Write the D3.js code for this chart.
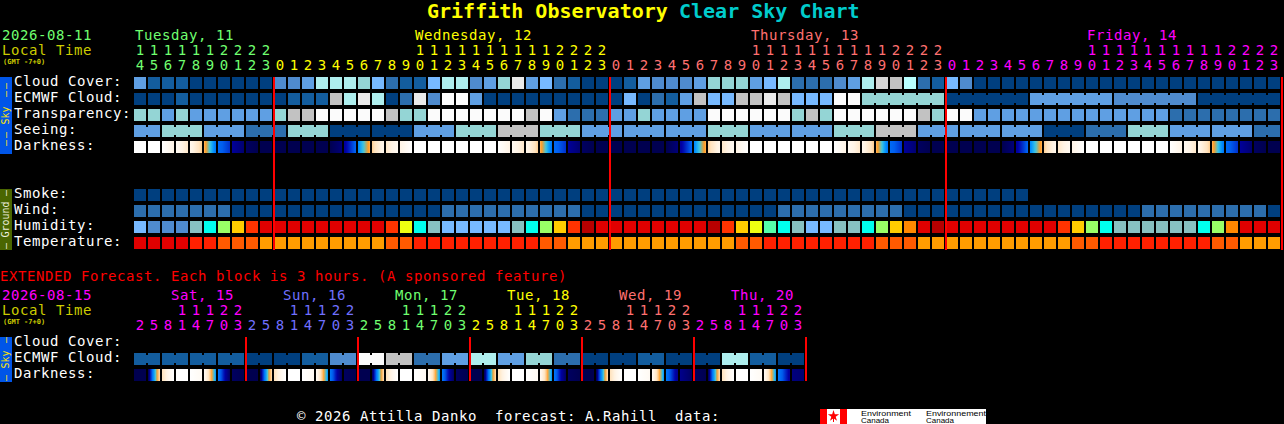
<!DOCTYPE html>
<html>
<head>
<meta charset="utf-8">
<title>Griffith Observatory Clear Sky Chart</title>
<script src="https://cdn.jsdelivr.net/npm/d3@7"></script>
<style>
  html, body { margin: 0; background: #000; overflow: hidden; }
  svg { display: block; }
  text { font-family: "DejaVu Sans Mono", monospace; white-space: pre; }
</style>
</head>
<body>
<script>
// hour of each block, main chart
const hours = [14,15,16,17,18,19,20,21,22,23,
  0,1,2,3,4,5,6,7,8,9,10,11,12,13,14,15,16,17,18,19,20,21,22,23,
  0,1,2,3,4,5,6,7,8,9,10,11,12,13,14,15,16,17,18,19,20,21,22,23,
  0,1,2,3,4,5,6,7,8,9,10,11,12,13,14,15,16,17,18,19,20,21,22,23];
const dayLabels = ["Tuesday, 11", "Wednesday, 12", "Thursday, 13", "Friday, 14"];
const dayFirstBlock = [0, 20, 44, 68];
const extHours = [2,5,8,11,14,17,20,23];
const extDays = ["Sat, 15", "Sun, 16", "Mon, 17", "Tue, 18", "Wed, 19", "Thu, 20"];

// sky levels, 0 = clear/dark blue ... 10 = overcast/white
const cloudCover = [4,1,1,1,0,0,0,0,0,0,3,3,4,7,7,7,6,5,2,1,
  1,5,7,7,3,4,6,9,4,5,2,1,0,0,0,1,4,3,3,3,4,6,6,6,4,5,7,2,2,2,3,
  4,7,11,8,12,2,1,5,3,0,0,0,0,0,0,0,0,0,0,0,0,0,0,0,0,0,0,0,0,0,0];
const ecmwfCloud = [0,0,0,1,0,0,0,0,0,0,0,1,1,1,8,7,9,7,0,2,
  9,3,10,10,4,0,0,0,0,0,0,0,0,0,0,5,0,2,1,4,8,5,5,8,8,9,8,5,5,5,10,10];
const ecmwfCloudLong = [6,0,4,3,0]; // six-hour blocks after the hourly part
const transparency = [6,6,4,6,4,4,4,4,4,4,6,8,8,10,10,10,10,10,8,6,
  6,10,10,10,10,10,10,10,8,10,4,2,2,2,4,4,6,4,4,4,4,10,10,10,10,10,10,6,8,6,10,
  10,10,10,10,10,8,6,10,10,4,4,4,4,4,4,4,4,4,4,4,4,4,4,2,2,2,2,2,2,2,2];
const seeing = [4,6,4,2,6,0,0,4,6,8,6,4,4,4,6,4,4,6,8,4,4,4,0,2,6,4,4,2];
const seeingSpan = [2,3,3,3,3,3,3,3,3,3,3,3,3,3,3,3,3,3,3,3,3,3,3,3,3,3,3,2];

// limiting magnitude at the left and the right edge of each block
const darkStart = [-4,-4,-4,-3,-2.5,0.5,3.8,5,5.8,6,6,6,6,6,6,5,3.2,0,-1,-2,
  -4,-4,-4,-4,-4,-4,-4,-3,-2.5,0.5,3.8,5,5.8,6,6,6,6,6,6,5,3.2,0,-1,-2,
  -4,-4,-4,-4,-4,-4,-4,-3,-2.5,0.5,3.8,5,5.8,6,6,6,6,6,6,5,3.2,0,-1,-2,
  -4,-4,-4,-4,-4,-4,-4,-3,-2.5,0.5,3.8,5,5.8,6];
const darkEnd = [-4,-4,-2,-1,0,3.6,4.4,5.6,6,6,6,6,6,6,5.5,3.9,0.6,-2.5,-3,-4,
  -4,-4,-4,-4,-4,-4,-2,-1,0,3.6,4.4,5.6,6,6,6,6,6,6,5.5,3.9,0.6,-2.5,-3,-4,
  -4,-4,-4,-4,-4,-4,-2,-1,0,3.6,4.4,5.6,6,6,6,6,6,6,5.5,3.9,0.6,-2.5,-3,-4,
  -4,-4,-4,-4,-4,-4,-2,-1,0,3.6,4.4,5.6,6,6];

const smoke = [0,0,0,0,0,0,0,0,0,0,0,0,0,0,0,0,0,0,0,0,0,0,0,0,0,0,0,0,0,0,0,0,
  0,0,0,0,0,0,0,0,0,0,0,0,0,0,0,0,0,0,0,0,0,0,0,0,0,0,0,0,0,0,0,0];
const wind = [2,2,2,2,2,2,2,0,0,0,0,0,0,0,0,0,0,0,0,0,0,0,
  2,2,2,2,2,2,2,2,2,2,0,0,0,0,0,0,0,0,0,0,0,0,0,0,
  2,2,2,2,2,2,2,2,2,0,0,0,0,0,0,0,0,0,0,0,0,0,0,0,0,0,
  2,2,2,2,2,2,2,2,2,0,0,0];
const humidity = [45,40,40,40,50,55,65,75,85,90,90,90,90,90,90,90,90,90,85,70,55,
  50,45,45,45,45,45,50,55,65,75,85,100,90,90,90,90,90,90,90,90,100,85,75,70,60,55,50,45,45,50,
  50,55,65,75,80,90,100,90,90,90,90,90,90,90,90,85,75,65,55,50,50,50,50,50,50,55,65,80,90,90,90];
const temperature = [32,32,32,32,28,28,24,24,24,20,20,20,20,20,20,20,20,20,24,24,28,
  28,28,28,28,28,28,28,28,24,24,20,20,20,20,20,20,20,20,20,20,20,20,24,24,28,28,28,28,28,28,
  28,28,24,24,24,20,20,20,20,20,20,20,20,20,20,20,24,24,28,28,28,28,28,28,28,28,24,24,20,20,20];

// extended forecast, 48 three-hour blocks
const extEcmwf = [1,1,1,1,0,0,1,3,10,8,2,4,7,4,6,2,0,0,1,0,0,7,1,0]; // 6 h blocks
const extDarkStart = [6,6,-0.5,-4,-4,-3,3.5,5.8, 6,6,-0.5,-4,-4,-3,3.5,5.8, 6,6,-0.5,-4,-4,-3,3.5,5.8,
  6,6,-0.5,-4,-4,-3,3.5,5.8, 6,6,-0.5,-4,-4,-3,3.5,5.2, 5.8,6,-0.5,-4,-4,-3,3.5,5.4];
const extDarkEnd = [6,-0.5,-4,-4,-3,3,5.8,6, 6,-0.5,-4,-4,-3,3,5.8,6, 6,-0.5,-4,-4,-3,3,5.8,6,
  6,-0.5,-4,-4,-3,3,5.8,6, 6,-0.5,-4,-4,-3,3,5.2,5.8, 6,-0.5,-4,-4,-3,3,5,5.6];

const skyRows = ["Cloud Cover:", "ECMWF Cloud:", "Transparency:", "Seeing:", "Darkness:"];
const groundRows = ["Smoke:", "Wind:", "Humidity:", "Temperature:"];
const extRows = ["Cloud Cover:", "ECMWF Cloud:", "Darkness:"];

const dayColors = ["#70ff70", "#ffff00", "#ff7070", "#ff00ff"];
const extColors = ["#ff00ff", "#7070ff", "#70ff70", "#ffff00", "#ff7070", "#ff00ff"];

const W = 1284, H = 424;
const svg = d3.select("body").append("svg").attr("width", W).attr("height", H);

const x = d3.scaleBand().domain(d3.range(82)).range([134, 134 + 14 * 82 - 2]).paddingInner(2 / 14);
const xExt = d3.scaleBand().domain(d3.range(48)).range([134, 134 + 14 * 48 - 2]).paddingInner(2 / 14);

function rowScale(names, top) {
  return d3.scaleBand().domain(names).range([top, top + 16 * names.length - 4]).paddingInner(4 / 16);
}
const ySky = rowScale(skyRows, 77);
const yGround = rowScale(groundRows, 189);
const yExt = rowScale(extRows, 337);

const skyColor = d3.scaleOrdinal(d3.range(13), ["#003f7f", "#135d9e", "#2c6ead", "#4f8bce", "#5f9fe3", "#77b9ff",
  "#94d5d5", "#aeeeee", "#c2c2c2", "#eaeaea", "#fbfbfb", "#d6d6d6", "#b8ffff"]);
const humidityColor = d3.scaleOrdinal([40, 45, 50, 55, 60, 65, 70, 75, 80, 85, 90, 100],
  ["#4f8bce", "#77b9ff", "#87c1c1", "#00ffee", "#55ffaa", "#99ff66", "#eeff11", "#ffcc00", "#ff8800", "#ff3300", "#e00000", "#b80000"]);
const tempColor = d3.scaleOrdinal([20, 24, 28, 32], ["#ff9c00", "#ff5a00", "#ff2000", "#e00000"]);
const darkColor = d3.scaleLinear()
  .domain([-4, -2, -0.5, 0.5, 1, 2, 3, 4, 4.8, 5.6, 6])
  .range(["#ffffff", "#fff4e6", "#ffe2bc", "#ffb860", "#ff9a20", "#40c8e0", "#0090ff", "#0060f0", "#0000a8", "#000070", "#000050"]);

// expand a list of values with spans into one entry per block
function spread(values, spans) {
  const out = [];
  let start = 0;
  values.forEach(function (v, i) {
    d3.range(spans[i]).forEach(function (j) {
      out.push({ k: start + j, value: v, joined: j < spans[i] - 1 });
    });
    start += spans[i];
  });
  return out;
}
function plain(values) {
  return values.map(function (v, k) { return { k: k, value: v, joined: false }; });
}

function drawRow(cells, xs, y, color) {
  const g = svg.append("g");
  g.selectAll(".block").data(cells).enter().append("rect")
    .attr("class", "block")
    .attr("x", function (d) { return xs(d.k); })
    .attr("y", y)
    .attr("width", xs.bandwidth())
    .attr("height", 12)
    .attr("fill", function (d) { return color(d.value); });
  // small bridge between blocks that share one forecast value
  g.selectAll(".bridge").data(cells.filter(function (d) { return d.joined; })).enter().append("rect")
    .attr("class", "bridge")
    .attr("x", function (d) { return xs(d.k) + xs.bandwidth(); })
    .attr("y", y + 2)
    .attr("width", xs.step() - xs.bandwidth())
    .attr("height", 8)
    .attr("fill", function (d) { return color(d.value); });
}

const defs = svg.append("defs");
function drawDarkness(starts, ends, xs, y, prefix) {
  const cells = starts.map(function (s, k) { return { k: k, from: s, to: ends[k] }; });
  const grads = defs.selectAll("." + prefix).data(cells).enter().append("linearGradient")
    .attr("class", prefix)
    .attr("id", function (d) { return prefix + d.k; });
  d3.range(0, 1.01, 0.125).forEach(function (t) {
    grads.append("stop")
      .attr("offset", t)
      .attr("stop-color", function (d) { return darkColor(d.from + (d.to - d.from) * t); });
  });
  svg.append("g").selectAll("rect").data(cells).enter().append("rect")
    .attr("x", function (d) { return xs(d.k); })
    .attr("y", y)
    .attr("width", xs.bandwidth())
    .attr("height", 12)
    .attr("fill", function (d) { return "url(#" + prefix + d.k + ")"; });
}

function label(txt, px, py, color, size, weight) {
  return svg.append("text")
    .attr("x", px).attr("y", py)
    .attr("fill", color)
    .attr("font-size", size || 14)
    .attr("letter-spacing", size ? 0 : 0.57)
    .attr("font-weight", weight || "normal")
    .text(txt);
}

function hourAxis(xs, blocks, textOf, colorOf, py) {
  const g = svg.append("g").attr("transform", "translate(0," + py + ")")
    .call(d3.axisTop(xs).tickValues(blocks).tickSize(0).tickPadding(0).tickFormat(textOf));
  g.select(".domain").remove();
  g.attr("font-family", null).attr("font-size", 14);
  g.selectAll("text").attr("fill", colorOf);
}

function sideTab(top, height, color, textColor, pieces) {
  svg.append("rect").attr("x", 0).attr("y", top).attr("width", 12).attr("height", height).attr("fill", color);
  pieces.forEach(function (p) {
    svg.append("text")
      .attr("transform", "translate(9," + p[1] + ") rotate(-90)")
      .attr("text-anchor", "middle")
      .attr("font-size", 10)
      .attr("letter-spacing", p[0].length === 3 && p[0] !== "Sky" ? -2 : 0)
      .attr("fill", textColor)
      .text(p[0]);
  });
}

// title
label("Griffith Observatory", 427, 18, "#ffff00", 20, "bold");
label("Clear Sky Chart", 679, 18, "#00cccc", 20, "bold");

// header, main chart
label("2026-08-11", 2, 40, "#70ff70");
label("Local Time", 2, 55, "#cccc00");
label("(GMT -7+0)", 3, 64, "#cccc00", 7, "bold");
dayLabels.forEach(function (d, i) {
  label(d, x(dayFirstBlock[i]) + 1, 40, dayColors[i]);
});
function blockColor(k) {
  return dayColors[k < 10 ? 0 : Math.floor((k - 10) / 24) + 1];
}
const tensBlocks = d3.range(82).filter(function (k) { return hours[k] >= 10; });
hourAxis(x, tensBlocks, function (k) { return Math.floor(hours[k] / 10); }, blockColor, 55);
hourAxis(x, d3.range(82), function (k) { return hours[k] % 10; }, blockColor, 70);

// row labels
skyRows.forEach(function (r) { label(r, 14, ySky(r) + 9, "#ffffff"); });
groundRows.forEach(function (r) { label(r, 14, yGround(r) + 9, "#ffffff"); });
extRows.forEach(function (r) { label(r, 14, yExt(r) + 9, "#ffffff"); });

// main blocks
drawRow(plain(cloudCover), x, ySky("Cloud Cover:"), skyColor);
const ecmwfCells = plain(ecmwfCloud).concat(
  spread(ecmwfCloudLong, [6, 6, 6, 6, 6]).map(function (d) {
    return { k: d.k + ecmwfCloud.length, value: d.value, joined: d.joined };
  }));
drawRow(ecmwfCells, x, ySky("ECMWF Cloud:"), skyColor);
drawRow(plain(transparency), x, ySky("Transparency:"), skyColor);
drawRow(spread(seeing, seeingSpan), x, ySky("Seeing:"), skyColor);
drawDarkness(darkStart, darkEnd, x, ySky("Darkness:"), "dark");

drawRow(plain(smoke), x, yGround("Smoke:"), skyColor);
drawRow(plain(wind), x, yGround("Wind:"), skyColor);
drawRow(plain(humidity), x, yGround("Humidity:"), humidityColor);
drawRow(plain(temperature), x, yGround("Temperature:"), tempColor);

// midnight lines, main chart
[10, 34, 58, 82].forEach(function (k) {
  const px = 134 + 14 * k - 1;
  svg.append("rect").attr("x", px).attr("y", 77).attr("width", 2).attr("height", 173).attr("fill", "#ff0000");
});

sideTab(77, 77, "#0055e8", "#ffe600", [["\u2014 \u2014", 91], ["Sky", 115.5], ["\u2014 \u2014", 140]]);
sideTab(189, 61, "#4a6600", "#eeeedd", [["\u2014", 193], ["Ground", 219.5], ["\u2014", 246]]);

// extended forecast
label("EXTENDED Forecast. Each block is 3 hours. (A sponsored feature)", 0, 281, "#ff0000");
label("2026-08-15", 2, 300, "#ff00ff");
label("Local Time", 2, 315, "#cccc00");
label("(GMT -7+0)", 3, 324, "#cccc00", 7, "bold");
extDays.forEach(function (d, i) {
  label(d, xExt(i * 8 + 3) - 5, 300, extColors[i]);
});
function extColor(k) { return extColors[Math.floor(k / 8)]; }
const extTens = d3.range(48).filter(function (k) { return extHours[k % 8] >= 10; });
hourAxis(xExt, extTens, function (k) { return Math.floor(extHours[k % 8] / 10); }, extColor, 315);
hourAxis(xExt, d3.range(48), function (k) { return extHours[k % 8] % 10; }, extColor, 330);

drawRow(spread(extEcmwf, extEcmwf.map(function () { return 2; })), xExt, yExt("ECMWF Cloud:"), skyColor);
drawDarkness(extDarkStart, extDarkEnd, xExt, yExt("Darkness:"), "extdark");
extDays.forEach(function (d, i) {
  svg.append("rect").attr("x", 134 + 14 * (i + 1) * 8 - 1).attr("y", 337).attr("width", 2).attr("height", 44).attr("fill", "#ff0000");
});
sideTab(337, 45, "#0055e8", "#ffe600", [["\u2014", 340], ["Sky", 359.5], ["\u2014", 378]]);

// footer
label("\u00a9 2026 Attilla Danko  forecast: A.Rahill  data:", 297, 421, "#ffffff");
svg.append("rect").attr("x", 820).attr("y", 409).attr("width", 166).attr("height", 15).attr("fill", "#ffffff");
svg.append("rect").attr("x", 820).attr("y", 409).attr("width", 7).attr("height", 15).attr("fill", "#ff0000");
svg.append("rect").attr("x", 840).attr("y", 409).attr("width", 7).attr("height", 15).attr("fill", "#ff0000");
svg.append("path").attr("transform", "translate(833.5,416)").attr("d", d3.symbol(d3.symbolStar, 40)()).attr("fill", "#ff0000");
svg.append("rect").attr("x", 833).attr("y", 418).attr("width", 1).attr("height", 4).attr("fill", "#ff0000");
[["Environment", 861, 50], ["Environnement", 926, 60]].forEach(function (p) {
  label(p[0], p[1], 415.5, "#000000", 7).style("font-family", "Liberation Sans")
    .attr("textLength", p[2]).attr("lengthAdjust", "spacingAndGlyphs");
});
[861, 926].forEach(function (px) {
  label("Canada", px, 422.5, "#000000", 7).style("font-family", "Liberation Sans")
    .attr("textLength", 28).attr("lengthAdjust", "spacingAndGlyphs");
});
</script>
</body>
</html>
